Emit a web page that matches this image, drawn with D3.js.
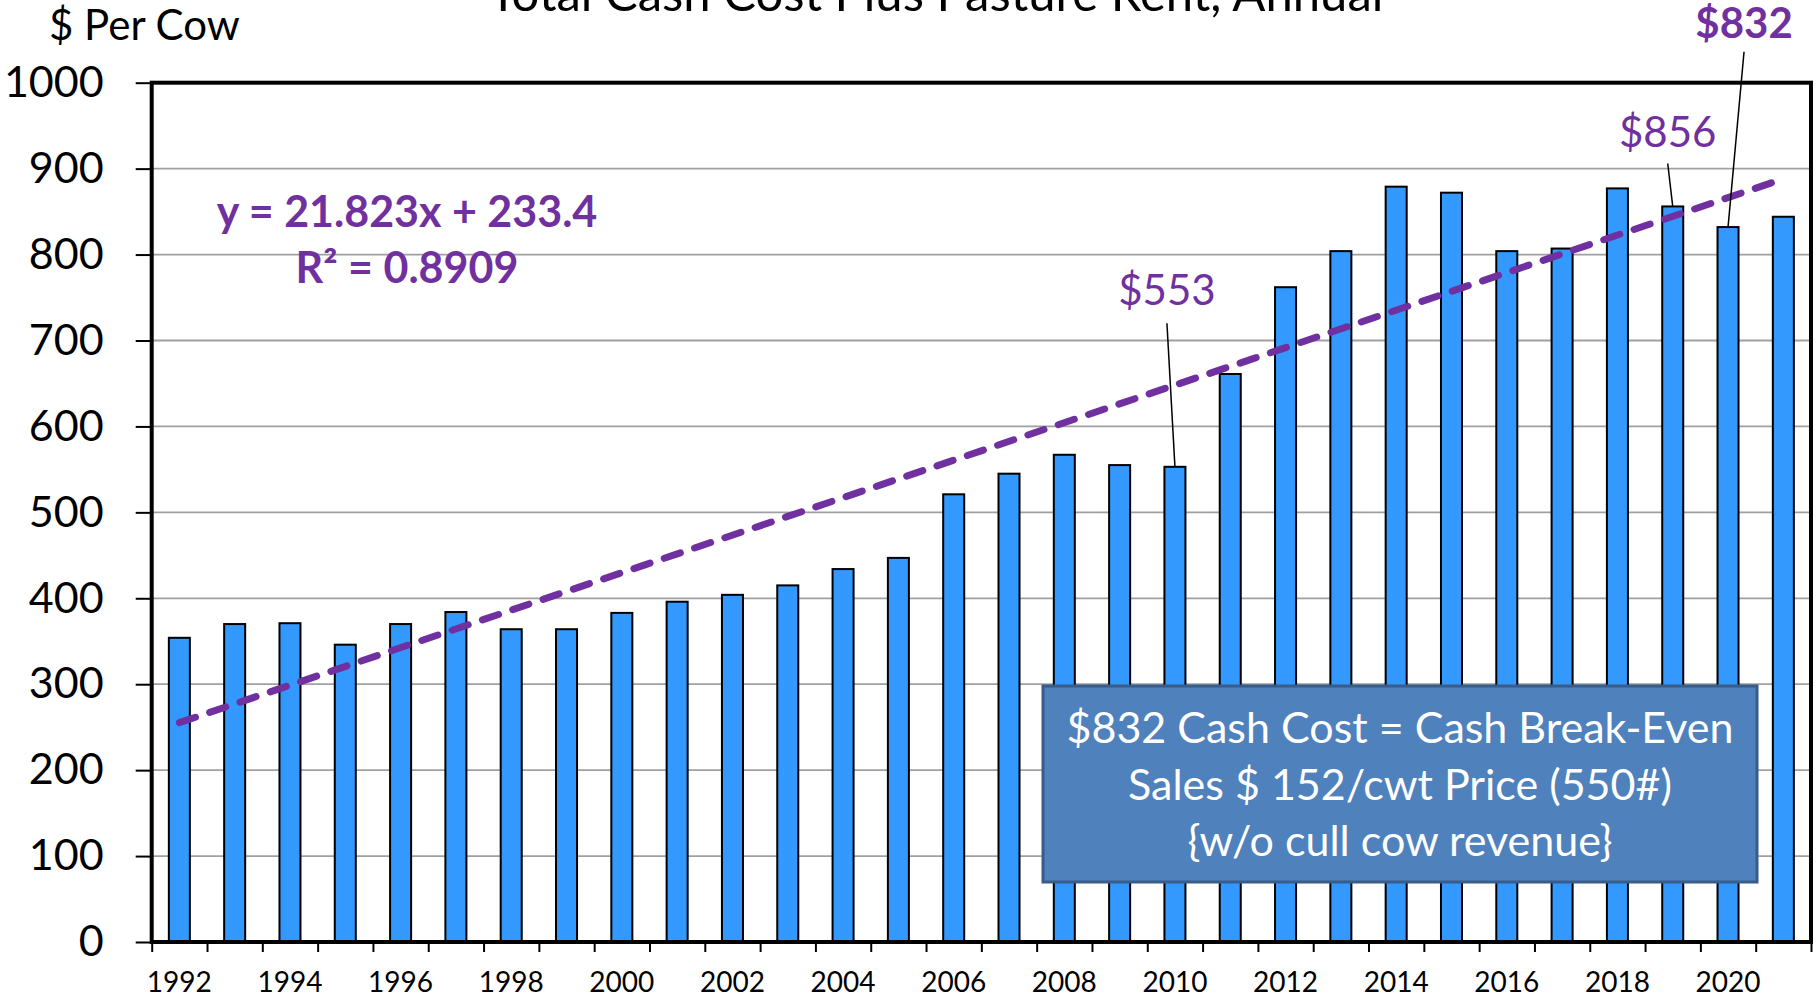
<!DOCTYPE html>
<html>
<head>
<meta charset="utf-8">
<script src="https://cdn.jsdelivr.net/npm/d3@7"></script>
<style>
  body { margin: 0; background: #fff; }
  text { font-family: Lato, "Open Sans", sans-serif; }
</style>
</head>
<body>
<svg id="chart"></svg>
<script>
// data
const years = [1992, 1993, 1994, 1995, 1996, 1997, 1998, 1999, 2000, 2001,
               2002, 2003, 2004, 2005, 2006, 2007, 2008, 2009, 2010, 2011,
               2012, 2013, 2014, 2015, 2016, 2017, 2018, 2019, 2020, 2021];
const costPerCow = [354, 370, 371, 346, 370, 384, 364, 364, 383, 396,
                    404, 415, 434, 447, 521, 545, 567, 555, 553, 661,
                    762, 804, 879, 872, 804, 807, 877, 856, 832, 844];
const yTicks = [0, 100, 200, 300, 400, 500, 600, 700, 800, 900, 1000];
const xTickLabels = [1992, 1994, 1996, 1998, 2000, 2002, 2004, 2006, 2008,
                     2010, 2012, 2014, 2016, 2018, 2020];
const trendSlope = 21.823, trendIntercept = 233.4;   // x = 1..n
const trendLabels = ["y = 21.823x + 233.4", "R² = 0.8909"];
const calloutYears = [2010, 2019, 2020];
const calloutText = ["$553", "$856", "$832"];
const boxLines = ["$832 Cash Cost = Cash Break-Even",
                  "Sales $ 152/cwt Price (550#)",
                  "{w/o cull cow revenue}"];

const W = 1816, H = 1000;
const margin = {top: 82.7, right: 5, bottom: 58, left: 151.7};

const svg = d3.select("#chart")
    .attr("width", W)
    .attr("height", H);

svg.append("rect").attr("width", W).attr("height", H).attr("fill", "#fff");

const x = d3.scaleBand()
    .domain(years)
    .range([margin.left, W - margin.right])
    .paddingInner(0.62)
    .paddingOuter(0.31);

const y = d3.scaleLinear()
    .domain([0, 1000])
    .range([H - margin.bottom, margin.top]);

const cx = yr => x(yr) + x.bandwidth() / 2;

// title (cut off at top like the original)
svg.append("text")
    .attr("x", 936)
    .attr("y", 11)
    .attr("text-anchor", "middle")
    .attr("font-size", 49)
    .attr("fill", "#000")
    .text("Total Cash Cost Plus Pasture Rent, Annual");

svg.append("text")
    .attr("x", 49)
    .attr("y", 40)
    .attr("font-size", 42)
    .text("$ Per Cow");

// gridlines
svg.append("g")
    .selectAll("line")
    .data(yTicks.filter(d => d > 0 && d < 1000))
    .join("line")
    .attr("x1", margin.left)
    .attr("x2", W - margin.right)
    .attr("y1", d => y(d))
    .attr("y2", d => y(d))
    .attr("stroke", "#a0a0a0")
    .attr("stroke-width", 1.8);

// y axis
svg.append("g")
    .attr("transform", `translate(${margin.left},0)`)
    .call(d3.axisLeft(y).tickValues(yTicks).tickFormat(d3.format("d")).tickSize(16).tickPadding(32))
    .call(g => g.select(".domain").remove())
    .call(g => g.selectAll(".tick line").attr("stroke", "#000").attr("stroke-width", 2))
    .call(g => g.selectAll(".tick text")
        .attr("font-size", 43)
        .attr("font-family", "Lato, sans-serif")
        .attr("fill", "#000"));

// x tick marks at category boundaries
const xb = d3.scaleLinear().domain([0, years.length]).range([margin.left, W - margin.right]);
svg.append("g")
    .attr("transform", `translate(0,${H - margin.bottom})`)
    .call(d3.axisBottom(xb).tickValues(d3.range(0, years.length + 1)).tickSize(10).tickFormat(""))
    .call(g => g.select(".domain").remove())
    .call(g => g.selectAll(".tick line").attr("stroke", "#000").attr("stroke-width", 2));

// x labels
svg.append("g")
    .attr("transform", `translate(0,${H - margin.bottom})`)
    .call(d3.axisBottom(x).tickValues(xTickLabels).tickSize(0).tickPadding(30))
    .call(g => g.select(".domain").remove())
    .call(g => g.selectAll(".tick text")
        .attr("font-size", 28)
        .attr("font-family", "Lato, sans-serif")
        .attr("fill", "#000"));

// bars
svg.append("g")
    .selectAll("rect")
    .data(years)
    .join("rect")
    .attr("x", d => x(d))
    .attr("width", x.bandwidth())
    .attr("y", (d, i) => y(costPerCow[i]))
    .attr("height", (d, i) => y(0) - y(costPerCow[i]))
    .attr("fill", "#3399ff")
    .attr("stroke", "#000")
    .attr("stroke-width", 2);

// plot frame
svg.append("rect")
    .attr("x", margin.left)
    .attr("y", margin.top)
    .attr("width", W - margin.right - margin.left)
    .attr("height", H - margin.bottom - margin.top)
    .attr("fill", "none")
    .attr("stroke", "#000")
    .attr("stroke-width", 4);

// linear trendline
const n = years.length;
svg.append("line")
    .attr("x1", cx(years[0]))
    .attr("y1", y(trendSlope * 1 + trendIntercept))
    .attr("x2", cx(years[n - 1]))
    .attr("y2", y(trendSlope * n + trendIntercept))
    .attr("stroke", "#7030a0")
    .attr("stroke-width", 7)
    .attr("stroke-linecap", "round")
    .attr("stroke-dasharray", "17 15");

const purple = "#7030a0";
svg.append("g")
    .selectAll("text")
    .data(trendLabels)
    .join("text")
    .attr("x", 407)
    .attr("y", (d, i) => 227 + i * 56)
    .attr("text-anchor", "middle")
    .attr("font-size", 43)
    .attr("font-weight", "bold")
    .attr("fill", purple)
    .text(d => d);

// callouts: label position (value units) and horizontal offset from bar centre
const calloutLabelValue = [741, 925, 1052];
const calloutDx = [-8, -5, 16];
const calloutLineTop = [720, 906, 1036];
const calloutBold = [false, false, true];

calloutYears.forEach((yr, k) => {
    const i = years.indexOf(yr);
    svg.append("line")
        .attr("x1", cx(yr) + calloutDx[k])
        .attr("y1", y(calloutLineTop[k]))
        .attr("x2", cx(yr))
        .attr("y2", y(costPerCow[i]))
        .attr("stroke", "#000")
        .attr("stroke-width", 1.5);
    svg.append("text")
        .attr("x", cx(yr) + calloutDx[k])
        .attr("y", y(calloutLabelValue[k]))
        .attr("text-anchor", "middle")
        .attr("font-size", 42)
        .attr("font-weight", calloutBold[k] ? "bold" : "normal")
        .attr("fill", purple)
        .text(calloutText[k]);
});

// text box
const box = {x: 1043, y: 686, w: 714, h: 196};
svg.append("rect")
    .attr("x", box.x)
    .attr("y", box.y)
    .attr("width", box.w)
    .attr("height", box.h)
    .attr("fill", "#4f81bd")
    .attr("stroke", "#385d8a")
    .attr("stroke-width", 3);

svg.append("g")
    .selectAll("text")
    .data(boxLines)
    .join("text")
    .attr("x", box.x + box.w / 2)
    .attr("y", (d, i) => 743 + i * 56.5)
    .attr("text-anchor", "middle")
    .attr("font-size", 43)
    .attr("fill", "#fff")
    .text(d => d);
</script>
</body>
</html>
